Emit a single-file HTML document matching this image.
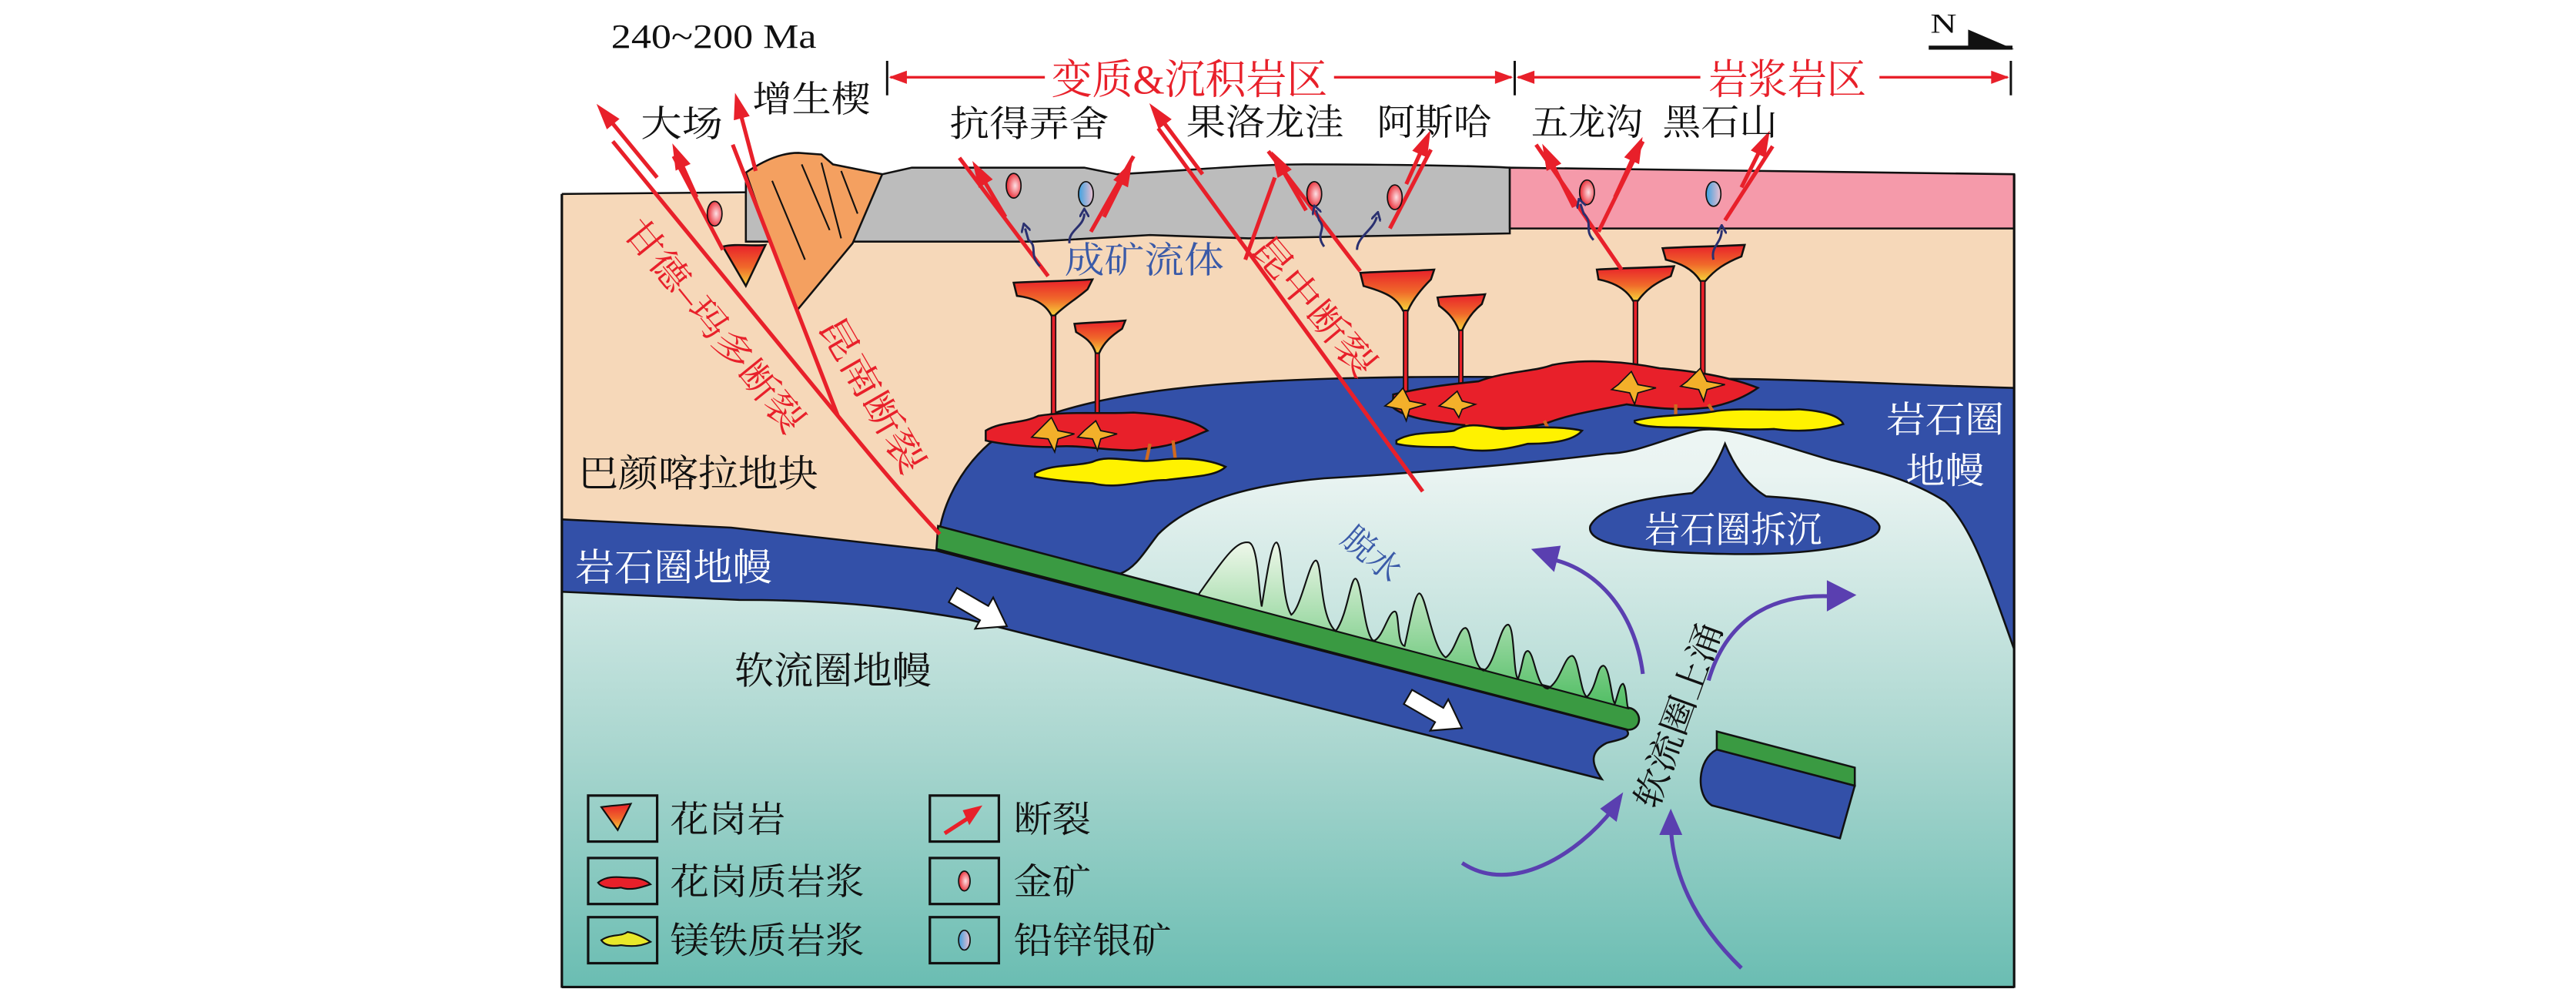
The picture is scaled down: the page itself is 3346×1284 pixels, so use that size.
<!DOCTYPE html>
<html><head><meta charset="utf-8"><style>
html,body{margin:0;padding:0;background:#fff;}
svg{display:block;}
text{font-family:"Liberation Serif","Noto Serif CJK SC",serif;}
</style></head><body>
<svg width="3346" height="1284" viewBox="0 0 1568 601.7" preserveAspectRatio="none" xmlns="http://www.w3.org/2000/svg">
<defs>
<linearGradient id="asth" x1="0" y1="0" x2="0" y2="1">
<stop offset="0" stop-color="#fbfdfc"/><stop offset="0.35" stop-color="#eaf4f2"/><stop offset="0.7" stop-color="#a9d6cf"/><stop offset="1" stop-color="#6abdb2"/>
</linearGradient>
<linearGradient id="gran" x1="0" y1="0" x2="0" y2="1">
<stop offset="0" stop-color="#e8202a"/><stop offset="0.55" stop-color="#f06a2a"/><stop offset="1" stop-color="#f7d23a"/>
</linearGradient>
<linearGradient id="dehy" x1="0" y1="0" x2="0" y2="1">
<stop offset="0" stop-color="#eef7ea"/><stop offset="1" stop-color="#4fbd62"/>
</linearGradient>
<radialGradient id="gold" cx="0.6" cy="0.5" r="0.6"><stop offset="0" stop-color="#fde0e4"/><stop offset="1" stop-color="#e8202a"/></radialGradient>
<linearGradient id="pb" x1="0" y1="0" x2="1" y2="0"><stop offset="0" stop-color="#3aa0e0"/><stop offset="1" stop-color="#f0c0d0"/></linearGradient>
<marker id="ah" viewBox="0 0 16 10" refX="2" refY="5" markerWidth="16" markerHeight="10" markerUnits="userSpaceOnUse" orient="auto">
<polygon points="0,0 16,5 0,10" fill="#e8202a"/>
</marker>
<marker id="fa" viewBox="0 0 8 8" refX="3" refY="4" markerWidth="6" markerHeight="6" markerUnits="userSpaceOnUse" orient="auto">
<path d="M0,0 L7,4 L0,8" fill="none" stroke="#2a3070" stroke-width="1.8"/>
</marker>
</defs>

<rect x="342" y="118" width="884" height="483" fill="url(#asth)"/>

<path d="M342,118 L1226,118 L1226,236 C1150,234 1100,230 1000,230 C900,229 820,228 740,234 C680,239 630,250 602,270 C585,285 575,305 572,322 L570,335 L445,321 L342,316 Z" fill="#f6d8b9"/>

<path d="M572,322 C575,305 585,285 602,270 C630,250 680,239 740,234 C820,228 900,229 1000,230 C1100,230 1150,234 1226,236 L1226,395 C1210,350 1200,320 1184,305 C1160,290 1135,285 1115,280 C1080,270 1050,258 1033,262 C1010,268 995,276 978,276 C930,282 860,288 806,291 C760,295 725,305 705,325 C697,335 692,345 682,349 Z" fill="#3350a8" stroke="#111" stroke-width="1.2"/>

<path d="M968,320 C975,306 1010,302 1030,300 C1040,292 1046,280 1050,270 C1055,282 1062,294 1075,302 C1110,304 1140,310 1144,320 C1146,332 1100,338 1050,337 C1000,336 965,332 968,320 Z" fill="#3350a8" stroke="#111" stroke-width="1.2"/>
<text x="1055" y="330" font-size="22" fill="#fff" text-anchor="middle" textLength="108" lengthAdjust="spacingAndGlyphs">岩石圈拆沉</text>

<path d="M342,316 L445,321 L570,335 L990,444 C994,449 985,450 978,452 C968,457 968,464 975,474 L590,377 C540,368 500,365 450,365 L342,360 Z" fill="#3350a8" stroke="#111" stroke-width="1.2"/>
<path d="M571,320 L993,431 C1000,434 999,444 991,444 L570,334 Z" fill="#3a9a42" stroke="#111" stroke-width="1.2"/>

<path d="M730,361 C745,340 752,329 760,330 C766,331 766,360 768,369 C771,350 774,330 777,330 C781,332 780,365 786,374 C792,370 797,341 801,341 C805,342 803,375 813,384 C820,375 822,352 825,352 C829,353 830,385 836,390 C842,388 845,372 849,372 C852,372 850,392 855,393 C858,380 861,361 864,361 C868,362 872,395 880,400 C886,396 888,382 892,382 C896,383 896,405 903,408 C910,405 913,380 918,380 C922,381 921,410 924,413 C927,405 927,396 930,396 C934,397 935,418 942,419 C950,415 952,399 957,399 C961,400 962,422 966,424 C972,418 972,405 976,405 C980,406 981,427 983,428 C985,422 986,416 988,416 C990,418 990,428 991,431 L730,362 Z" fill="url(#dehy)" stroke="#111" stroke-width="1"/>

<path transform="translate(580,362) rotate(30)" d="M0,-5 L22,-5 L22,-11 L38,0 L22,11 L22,5 L0,5 Z" fill="#fff" stroke="#111" stroke-width="1"/>
<path transform="translate(857,424) rotate(30)" d="M0,-5 L22,-5 L22,-11 L38,0 L22,11 L22,5 L0,5 Z" fill="#fff" stroke="#111" stroke-width="1"/>

<path d="M1045,456 L1129,478 L1120,510 L1042,490 C1032,484 1033,462 1045,456 Z" fill="#3350a8" stroke="#111" stroke-width="1.2"/>
<path d="M1045,445 L1129,467 L1129,478 L1045,456 Z" fill="#3a9a42" stroke="#111" stroke-width="1.2"/>

<path d="M454,118 L454,106 L537,106 L555,102 L660,102 L680,106 C720,104 760,100 794,100 C850,100 900,101 919,102 L919,142 C860,143 820,144 760,145 L700,143 L630,147 L454,147 Z" fill="#bcbcbc" stroke="#111" stroke-width="1.2"/>
<path d="M919,102 C1000,103 1100,105 1226,106 L1226,139 L919,139 Z" fill="#f59aaa" stroke="#111" stroke-width="1.2"/>
<path d="M342,118 L342,601" stroke="#111" stroke-width="1.5"/>
<path d="M1226,106 L1226,601" stroke="#111" stroke-width="1.5"/>
<path d="M342,118 L454,117" stroke="#111" stroke-width="1.2"/>
<path d="M342,600.5 L1226,600.5" stroke="#111" stroke-width="1.5"/>

<path d="M454,105 C466,97 476,93 486,93 L500,94 L507,100 L537,106 L519,148 L485,189 L469,148 Z" fill="#f4a060" stroke="#111" stroke-width="1.2"/>
<path d="M470,110 L490,158 M488,100 L505,140 M500,99 L512,145 M512,104 L522,130" stroke="#111" stroke-width="1" fill="none"/>
<path d="M440,150 C448,148 458,150 466,149 L454,174 Z" fill="url(#gran)" stroke="#111" stroke-width="1.2"/>

<g stroke="#111" stroke-width="1.2" fill="url(#gran)">
<path d="M617,172 C635,171 650,171 665,170 L662,176 C655,182 648,186 642,192 L640,192 C636,184 628,181 619,180 Z"/>
<path d="M654,197 C665,196 675,196 685,195 L683,200 C677,204 672,208 669,215 L667,215 C665,208 660,205 655,202 Z"/>
<path d="M828,166 C843,165 858,165 873,164 L871,170 C865,176 860,182 857,189 L854,189 C850,181 844,178 830,174 Z"/>
<path d="M875,181 C884,180 893,180 904,179 L902,185 C897,189 893,194 890,201 L888,201 C885,193 880,189 876,186 Z"/>
<path d="M972,164 C987,163 1003,163 1019,162 L1017,168 C1008,172 1002,176 997,183 L994,183 C990,176 983,172 973,170 Z"/>
<path d="M1012,151 C1028,150 1045,150 1062,149 L1060,156 C1050,160 1044,164 1038,171 L1035,171 C1030,163 1022,160 1014,158 Z"/>
</g>
<g fill="#e8202a" stroke="#111" stroke-width="0.8">
<rect x="640" y="192" width="2.6" height="64"/>
<rect x="666.7" y="215" width="2.4" height="50"/>
<rect x="854.3" y="189" width="2.6" height="54"/>
<rect x="888" y="201" width="2.4" height="42"/>
<rect x="994.2" y="183" width="2.6" height="49"/>
<rect x="1035.2" y="171" width="2.6" height="59"/>
</g>

<g fill="#e8202a" stroke="#111" stroke-width="1.2">
<path d="M600,262 C610,256 622,258 632,253 C650,250 670,252 690,251 C710,252 728,256 735,262 C725,266 718,270 705,272 L690,274 C670,274 655,270 640,272 C625,272 608,270 600,268 Z"/>
<path d="M848,240 C865,236 880,234 900,232 C915,226 935,226 945,222 C965,218 990,220 1010,224 C1035,226 1055,230 1070,236 C1060,243 1050,246 1040,248 C1020,250 1005,248 990,246 C970,250 955,252 940,258 C920,262 905,260 885,258 C870,256 855,254 848,248 Z"/>
</g>
<g fill="#f3b02a" stroke="#111" stroke-width="0.8">
<path d="M632,262 L640,254 L644,262 L654,264 L644,267 L642,275 L638,267 L628,266 Z"/>
<path d="M660,262 L667,256 L670,262 L680,264 L670,267 L668,274 L665,267 L656,266 Z"/>
<path d="M847,244 L854,236 L858,244 L868,246 L858,249 L856,256 L853,249 L843,247 Z"/>
<path d="M880,244 L887,238 L890,244 L898,246 L890,249 L888,254 L885,249 L876,247 Z"/>
<path d="M985,234 L993,226 L997,234 L1008,236 L997,239 L995,246 L992,239 L981,237 Z"/>
<path d="M1027,232 L1035,224 L1039,232 L1050,234 L1039,237 L1037,244 L1034,237 L1023,235 Z"/>
</g>
<g stroke="#d06a20" stroke-width="2">
<path d="M700,270 L697,284 M714,268 L716,284"/>
<path d="M893,258 L893,266 M940,256 L944,264"/>
<path d="M1020,246 L1020,254 M1040,246 L1045,254"/>
</g>
<g fill="#fff200" stroke="#111" stroke-width="1.2">
<path d="M630,288 C640,282 655,284 665,281 C675,276 690,282 705,280 C720,278 735,279 746,284 C740,290 725,290 710,292 C695,292 680,298 665,294 C650,293 640,292 630,290 Z"/>
<path d="M850,268 C860,262 875,264 885,262 C895,256 905,260 915,261 C930,260 950,259 963,262 C958,268 945,270 930,270 C915,274 900,276 885,272 C870,272 858,272 850,270 Z"/>
<path d="M995,256 C1010,252 1030,253 1045,250 C1060,248 1080,250 1095,249 C1110,250 1120,253 1122,258 C1110,262 1095,263 1080,261 C1060,262 1040,260 1020,260 C1005,260 998,259 995,257 Z"/>
</g>

<g stroke="#e8202a" stroke-width="2.4" fill="none">
<path d="M373,86 L510,253 C540,290 558,310 572,325"/>
<path d="M446,88 L510,253"/>
<path d="M410,95 L440,152"/>
<path d="M705,78 L866,299"/>
<path d="M776,108 L758,158"/>
<path d="M584,96 L638,168"/>
<path d="M690,95 L664,141"/>
<path d="M772,92 L828,165"/>
<path d="M871,91 L846,139"/>
<path d="M935,88 L987,164"/>
<path d="M1000,86 L973,141"/>
<path d="M1079,89 L1050,134"/>
</g>
<g stroke="#e8202a" stroke-width="2.4" fill="none" marker-end="url(#ah)">
<path d="M400,108 L372,74"/>
<path d="M460,104 L451,70"/>
<path d="M424,120 L415,100"/>
<path d="M732,106 L708,74"/>
<path d="M612,132 L599,110"/>
<path d="M672,132 L683,110"/>
<path d="M795,128 L781,104"/>
<path d="M856,112 L865,92"/>
<path d="M958,126 L945,100"/>
<path d="M983,120 L994,96"/>
<path d="M1060,114 L1071,92"/>
</g>

<g stroke="#111" stroke-width="0.8">
<ellipse cx="435" cy="130" rx="4.5" ry="7.5" fill="url(#gold)"/>
<ellipse cx="617" cy="113" rx="4.5" ry="7.5" fill="url(#gold)"/>
<ellipse cx="661" cy="118" rx="4.5" ry="7.5" fill="url(#pb)"/>
<ellipse cx="800" cy="118" rx="4.5" ry="7.5" fill="url(#gold)"/>
<ellipse cx="849" cy="120" rx="4.5" ry="7.5" fill="url(#gold)"/>
<ellipse cx="966" cy="117" rx="4.5" ry="7.5" fill="url(#gold)"/>
<ellipse cx="1043" cy="118" rx="4.5" ry="7.5" fill="url(#pb)"/>
</g>
<g stroke="#2a3070" stroke-width="1.4" fill="none" marker-end="url(#fa)">
<path d="M633,162 C626,155 632,150 626,146 L624,139"/>
<path d="M651,148 C650,140 660,138 660,130"/>
<path d="M806,150 C800,142 808,140 803,134 L801,128"/>
<path d="M826,152 C826,144 836,140 838,132"/>
<path d="M970,146 C964,140 970,136 964,130 L962,124"/>
<path d="M1043,158 C1041,150 1048,148 1048,140"/>
</g>

<g stroke="#5a3fb0" stroke-width="2.4" fill="none">
<path d="M1000,410 C995,370 970,345 943,340"/>
<path d="M1040,414 C1050,380 1075,360 1118,363"/>
<path d="M890,525 C920,545 960,520 982,492"/>
<path d="M1060,589 C1030,560 1018,530 1017,502"/>
</g>
<g fill="#5a3fb0">
<polygon points="932,334 950,332 946,348"/>
<polygon points="1130,362 1112,372 1112,353"/>
<polygon points="988,482 984,500 974,492"/>
<polygon points="1017,492 1024,508 1010,508"/>
</g>

<g stroke="#111" stroke-width="1.4">
<path d="M540,37 L540,58 M922,37 L922,58 M1224,37 L1224,58"/>
</g>
<g stroke="#e8202a" stroke-width="1.6">
<path d="M542,47 L636,47 M812,47 L920,47 M924,47 L1035,47 M1144,47 L1222,47"/>
</g>
<g fill="#e8202a">
<polygon points="541,47 552,43 552,51"/>
<polygon points="921,47 910,43 910,51"/>
<polygon points="923,47 934,43 934,51"/>
<polygon points="1223,47 1212,43 1212,51"/>
</g>
<text x="640" y="57" font-size="25" fill="#e8202a" textLength="168" lengthAdjust="spacingAndGlyphs">变质&amp;沉积岩区</text>
<text x="1040" y="57" font-size="25" fill="#e8202a" textLength="96" lengthAdjust="spacingAndGlyphs">岩浆岩区</text>

<text x="1175" y="20" font-size="17" fill="#111" textLength="16" lengthAdjust="spacingAndGlyphs">N</text>
<path d="M1174,29 L1225,29" stroke="#111" stroke-width="2.5"/>
<polygon points="1198,18 1226,30 1198,30" fill="#111"/>

<text x="372" y="29" font-size="21" fill="#111" textLength="125" lengthAdjust="spacingAndGlyphs">240~200 Ma</text>

<g font-size="22" fill="#111">
<text x="458" y="68" textLength="72" lengthAdjust="spacingAndGlyphs">增生楔</text>
<text x="390" y="83" textLength="50" lengthAdjust="spacingAndGlyphs">大场</text>
<text x="578" y="83" textLength="97" lengthAdjust="spacingAndGlyphs">抗得弄舍</text>
<text x="722" y="82" textLength="96" lengthAdjust="spacingAndGlyphs">果洛龙洼</text>
<text x="838" y="82" textLength="70" lengthAdjust="spacingAndGlyphs">阿斯哈</text>
<text x="932" y="82" textLength="68" lengthAdjust="spacingAndGlyphs">五龙沟</text>
<text x="1012" y="82" textLength="70" lengthAdjust="spacingAndGlyphs">黑石山</text>
<text x="352" y="296" font-size="23" textLength="146" lengthAdjust="spacingAndGlyphs">巴颜喀拉地块</text>
<text x="447" y="416" font-size="23" textLength="120" lengthAdjust="spacingAndGlyphs">软流圈地幔</text>
</g>
<g font-size="22" fill="#fff">
<text x="350" y="353" font-size="23" textLength="120" lengthAdjust="spacingAndGlyphs">岩石圈地幔</text>
<text x="1148" y="263" textLength="72" lengthAdjust="spacingAndGlyphs">岩石圈</text>
<text x="1160" y="294" textLength="48" lengthAdjust="spacingAndGlyphs">地幔</text>
</g>
<text x="648" y="166" font-size="22" fill="#3a5aa8" textLength="97" lengthAdjust="spacingAndGlyphs">成矿流体</text>
<text transform="translate(835,337) rotate(40)" x="0" y="7" font-size="20" fill="#3a5aa8" text-anchor="middle">脱水</text>
<text transform="translate(435,198) rotate(51)" x="0" y="8" font-size="22" fill="#e8202a" text-anchor="middle" textLength="160" lengthAdjust="spacingAndGlyphs">甘德–玛多断裂</text>
<text transform="translate(531,240) rotate(60)" x="0" y="8" font-size="22" fill="#e8202a" text-anchor="middle" textLength="106" lengthAdjust="spacingAndGlyphs">昆南断裂</text>
<text transform="translate(800,186) rotate(50)" x="0" y="8" font-size="22" fill="#e8202a" text-anchor="middle" textLength="104" lengthAdjust="spacingAndGlyphs">昆中断裂</text>
<text transform="translate(1021,435) rotate(-70)" x="0" y="8" font-size="21" fill="#111" text-anchor="middle" textLength="118" lengthAdjust="spacingAndGlyphs">软流圈上涌</text>

<g fill="none" stroke="#111" stroke-width="1.5">
<rect x="358" y="484" width="42" height="28"/>
<rect x="358" y="522" width="42" height="28"/>
<rect x="358" y="558" width="42" height="28"/>
<rect x="566" y="484" width="42" height="28"/>
<rect x="566" y="522" width="42" height="28"/>
<rect x="566" y="558" width="42" height="28"/>
</g>
<path d="M366,491 C372,490 378,490 384,489 L376,505 Z" fill="url(#gran)" stroke="#111" stroke-width="1"/>
<path d="M364,537 C370,532 378,534 384,534 C390,534 394,536 396,538 C390,540 384,542 378,540 C372,541 366,540 364,537 Z" fill="#e8202a" stroke="#111" stroke-width="1"/>
<path d="M366,572 C372,568 378,570 382,567 C388,568 393,571 396,573 C390,576 384,576 378,575 C372,576 368,575 366,572 Z" fill="#e8e82a" stroke="#111" stroke-width="1"/>
<path d="M575,507 L592,496" stroke="#e8202a" stroke-width="2.4"/>
<polygon points="586,493 598,490 590,502" fill="#e8202a"/>
<ellipse cx="587" cy="536" rx="3.5" ry="6" fill="url(#gold)" stroke="#111" stroke-width="0.8"/>
<ellipse cx="587" cy="572" rx="3.5" ry="6" fill="url(#pb)" stroke="#111" stroke-width="0.8"/>
<g font-size="22" fill="#111">
<text x="408" y="506" textLength="70" lengthAdjust="spacingAndGlyphs">花岗岩</text>
<text x="408" y="544" textLength="118" lengthAdjust="spacingAndGlyphs">花岗质岩浆</text>
<text x="408" y="580" textLength="118" lengthAdjust="spacingAndGlyphs">镁铁质岩浆</text>
<text x="617" y="506" textLength="47" lengthAdjust="spacingAndGlyphs">断裂</text>
<text x="617" y="544" textLength="47" lengthAdjust="spacingAndGlyphs">金矿</text>
<text x="617" y="580" textLength="96" lengthAdjust="spacingAndGlyphs">铅锌银矿</text>
</g>
</svg>
</body></html>
